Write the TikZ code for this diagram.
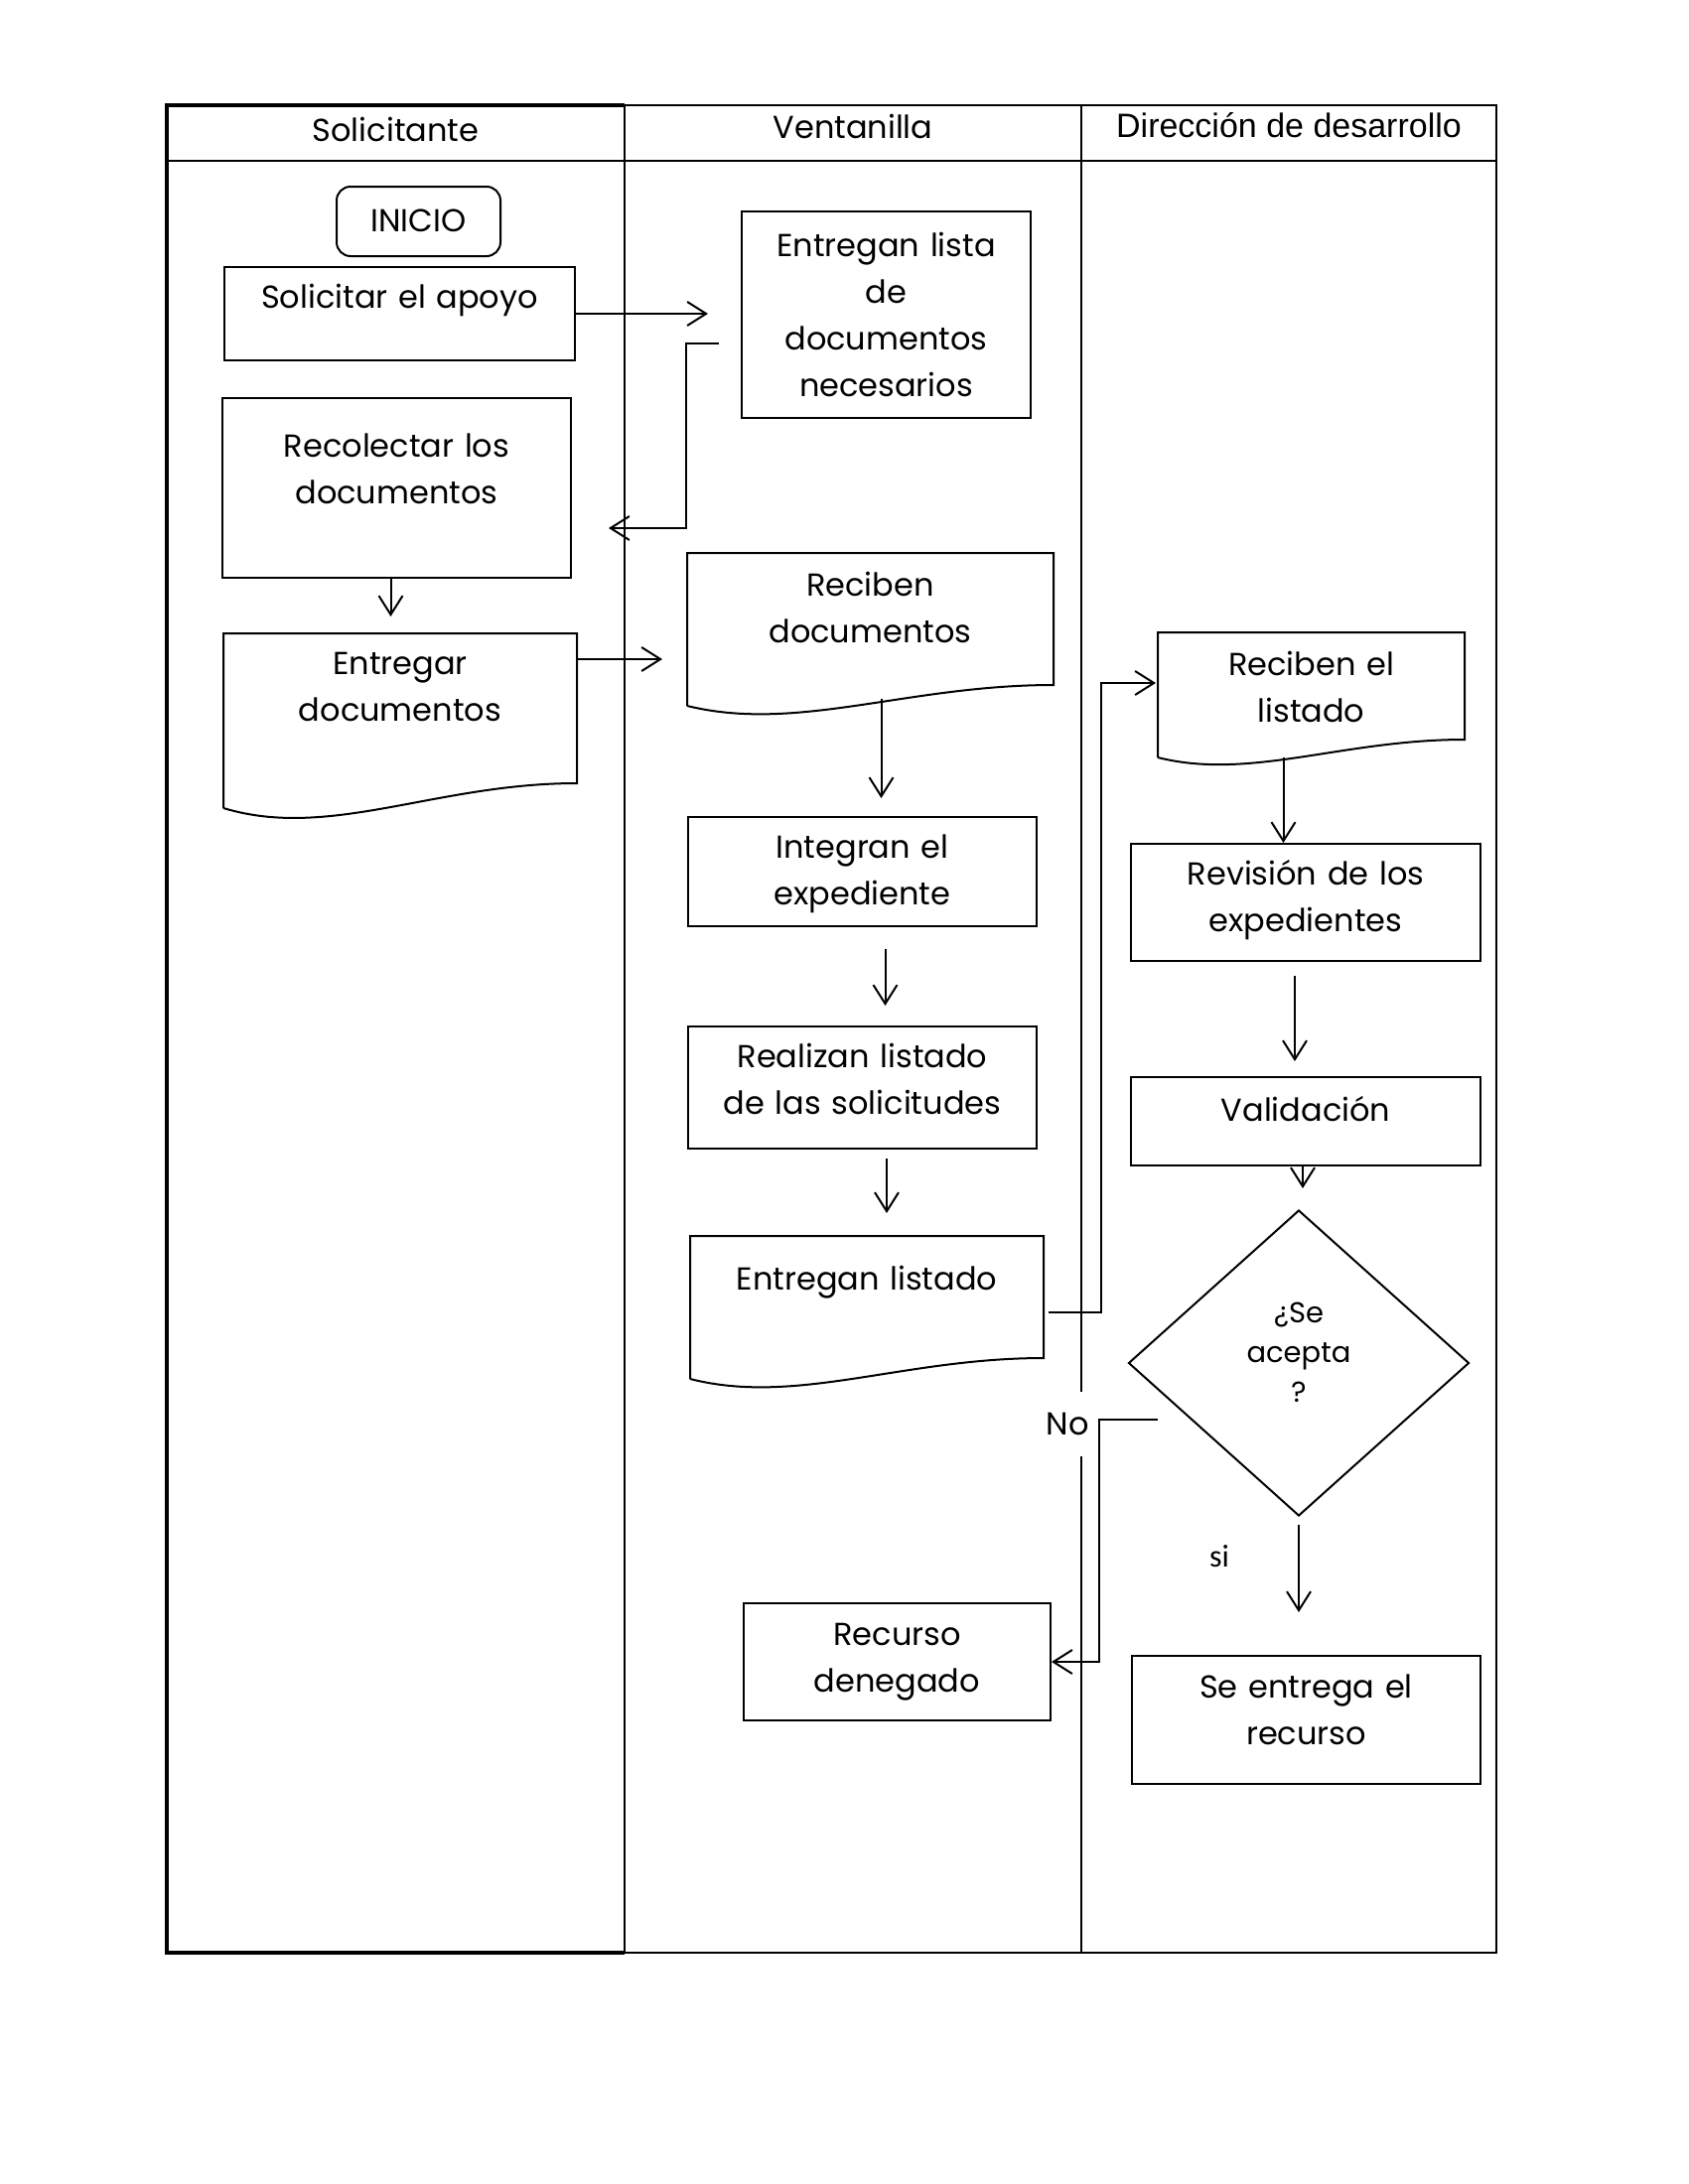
\documentclass[tikz,border=0pt]{standalone}
\usepackage{fontspec}
\setmainfont{Poppins}
\newfontfamily\headfont{Liberation Sans}
\newfontfamily\labfont{Carlito}
\usepackage{tikz}
\usetikzlibrary{arrows.meta}
\usetikzlibrary{calc}
\usetikzlibrary{shapes.geometric}

\newcommand{\txt}{\fontsize{32}{47}\selectfont}

\begin{document}
\begin{tikzpicture}[x=1pt, y=-1pt, line width=2pt,
    >={Straight Barb[length=19pt, width=24pt]},
    proc/.style n args={3}{draw, inner sep=0pt, align=center, font=\txt,
      text width=#1pt, text height=#2pt, text depth=#3pt},
    doc/.style n args={3}{proc={#1}{#2}{#3}, draw=none}] % Flujo

      \useasboundingbox (0,0) rectangle (1700,2200);

      % wavy bottom of a document box
      \newcommand\wavy[2]{%
        \draw (#1.south west) -- (#1.north west) -- (#1.north east)
        -- ($(#1.south east)+(0,-#2)$)
        .. controls ($(#1.south west)!0.6!(#1.south east)+(0,-#2)$)
        and ($(#1.south west)!0.3!(#1.south east)+(0,1.3*#2)$) .. (#1.south west);}

      \draw (629,106) -- (1507,106) -- (1507,1967) -- (629,1967);
      \draw [line width=4pt] (629,106) -- (168,106) -- (168,1967) -- (629,1967);
      \draw [line width=2.5pt] (629,106) -- (629,1967);
      \draw (1089,106) -- (1089,1967);
      \draw (168,162) -- (1507,162);

      \node [font=\txt, anchor=base] (hsol) at (398.5,142) {Solicitante};
      \node [font=\txt, anchor=base] (hven) at (859,139) {Ventanilla};
      \node [font=\headfont\fontsize{34}{40}\selectfont, anchor=base] (hdir)
      at (1298,138) {Dirección de desarrollo};

      % Solicitante
      \node [proc={165}{45}{25}, rounded corners=14pt] (inicio) at (421.5,223) {INICIO};
      \node [proc={353}{41}{53}] (solic) at (402.5,316) {Solicitar el apoyo};
      \node [proc={351}{59}{122}] (recol) at (399.5,491.5) {Recolectar los\\documentos};
      \node [doc={354}{40}{134}] (entdoc) at (403,726) {Entregar\\documentos};
      \wavy{entdoc}{25}

      % Ventanilla
      \node [proc={291}{45}{163}] (lista) at (892.5,317)
      {Entregan lista\\de\\documentos\\necesarios};
      \node [doc={367}{42}{110}] (recdoc) at (876.5,634) {Reciben\\documentos};
      \wavy{recdoc}{21}
      \node [proc={351}{41}{69}] (integ) at (868.5,878) {Integran el\\expediente};
      \node [proc={351}{41}{82}] (realiz) at (868.5,1095.5)
      {Realizan listado\\de las solicitudes};
      \node [doc={354}{53}{89}] (entlist) at (873,1317) {Entregan listado};
      \wavy{entlist}{21}
      \node [proc={309}{42}{76}] (recden) at (903.5,1674) {Recurso\\denegado};

      % Direccion
      \node [doc={307}{42}{82}] (reclist) at (1320.5,700) {Reciben el\\listado};
      \wavy{reclist}{18}
      \node [proc={352}{41}{77}] (revis) at (1315,909) {Revisión de los\\expedientes};
      \node [proc={352}{44}{45}] (valid) at (1315,1129.5) {Validación};
      \node [draw, diamond, minimum width=343pt, minimum height=308pt, inner sep=0pt,
        font=\fontsize{29}{40}\selectfont, align=center, text depth=22pt] (accept)
      at (1308,1373) {¿Se\\acepta\\?};
      \node [proc={351}{42}{87}] (sentrega) at (1315.5,1732.5) {Se entrega el\\recurso};

      \node [fill=white, font=\txt, inner xsep=2pt, minimum height=65pt] (no)
      at (1075,1434.5) {No};
      \node [font=\labfont\fontsize{32}{40}\selectfont, anchor=base] (si)
      at (1228,1578) {si};

      \coordinate (listaout) at ($(lista.west)+(-22,29)$);
      \coordinate (recolin) at ($(recol.east)+(37,40.5)$);
      \coordinate (noout) at ($(accept.west)+(30,57)$);

      \draw [->, shorten >=33pt] (solic.east) -- (solic.east -| lista.west);
      \draw [->] (listaout) -- ++(-33,0) |- (recolin);
      \draw [->, shorten >=17pt] ([xshift=-6pt]recol.south)
      -- ([xshift=-6pt]recol.south |- entdoc.north);
      \draw [->, shorten >=25pt] ([yshift=-26pt]entdoc.north east)
      -- ([yshift=-26pt]entdoc.north east -| recdoc.west);
      \draw [->, shorten <=-7pt, shorten >=18pt] ([xshift=11pt]recdoc.south)
      -- ([xshift=11pt]recdoc.south |- integ.north);
      \draw [->, shorten <=22pt, shorten >=20pt] ([xshift=23pt]integ.south)
      -- ([xshift=23pt]integ.south |- realiz.north);
      \draw [->, shorten <=9pt, shorten >=23pt] ([xshift=24.5pt]realiz.south)
      -- ([xshift=24.5pt]realiz.south |- entlist.north);
      \draw [->] ([xshift=5pt, yshift=-77pt]entlist.north east)
      -| ([xshift=-57pt, yshift=-51pt]reclist.north west)
      -- ([xshift=-2pt, yshift=-51pt]reclist.north west);
      \draw [->] ([xshift=-28pt]reclist.south) -- ([xshift=-28pt]reclist.south |- revis.north);
      \draw [->, shorten <=14pt, shorten >=15pt] ([xshift=-11pt]revis.south)
      -- ([xshift=-11pt]revis.south |- valid.north);
      \draw [->, shorten >=21pt] ([xshift=-3pt]valid.south)
      -- ([xshift=-3pt]valid.south |- accept.north);
      \draw [->, shorten <=8pt, shorten >=43pt] (accept.south) -- (accept.south |- sentrega.north);
      \draw [->] (noout) -| ($(recden.east)+(48,0)$) -- (recden.east);

    \end{tikzpicture}
\end{document}
